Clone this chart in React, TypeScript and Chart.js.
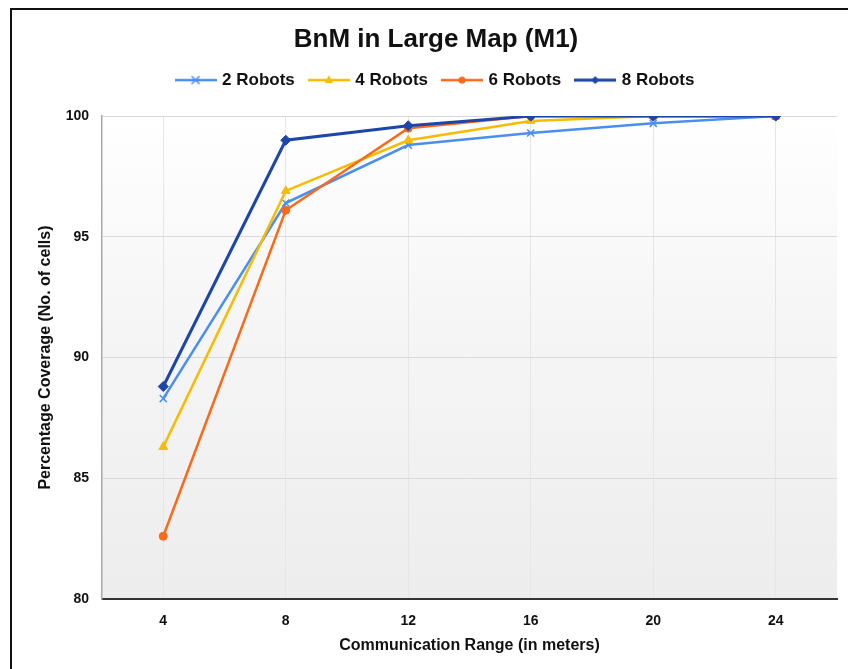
import React, { useEffect, useRef } from "react";
import { Chart, registerables } from "chart.js";

Chart.register(...registerables);

const xLabels = ["4", "8", "12", "16", "20", "24"];
const seriesNames = ["2 Robots", "4 Robots", "6 Robots", "8 Robots"];
const robots2 = [88.3, 96.4, 98.8, 99.3, 99.7, 100];
const robots4 = [86.3, 96.9, 99.0, 99.8, 100, 100];
const robots6 = [82.6, 96.1, 99.5, 100, 100, 100];
const robots8 = [88.8, 99.0, 99.6, 100, 100, 100];

const colors = ["#4a8ef0", "#f7bb00", "#fb6a1a", "#1c46a8"];
const markers = ["crossRot", "triangle", "circle", "rectRot"];
const radii = [5, 5, 4, 5];
const widths = [2.5, 2.5, 2.5, 3];
const orders = [3, 2, 1, 0];

const FONT = "'Liberation Sans', Arial, sans-serif";

function legendImage(i: number): HTMLCanvasElement {
  const c = document.createElement("canvas");
  c.width = 42;
  c.height = 14;
  const ctx = c.getContext("2d")!;
  ctx.strokeStyle = colors[i];
  ctx.fillStyle = colors[i];
  ctx.lineWidth = widths[i];
  ctx.beginPath();
  ctx.moveTo(0, 7);
  ctx.lineTo(42, 7);
  ctx.stroke();
  const cx = 21, cy = 7, r = 4;
  ctx.beginPath();
  if (markers[i] === "crossRot") {
    ctx.lineWidth = 1.5;
    ctx.moveTo(cx - r, cy - r); ctx.lineTo(cx + r, cy + r);
    ctx.moveTo(cx + r, cy - r); ctx.lineTo(cx - r, cy + r);
    ctx.stroke();
  } else if (markers[i] === "triangle") {
    ctx.moveTo(cx, cy - r - 1); ctx.lineTo(cx + r, cy + r - 1); ctx.lineTo(cx - r, cy + r - 1);
    ctx.closePath(); ctx.fill();
  } else if (markers[i] === "circle") {
    ctx.arc(cx, cy, 3.5, 0, Math.PI * 2); ctx.fill();
  } else {
    ctx.moveTo(cx, cy - r); ctx.lineTo(cx + r, cy); ctx.lineTo(cx, cy + r); ctx.lineTo(cx - r, cy);
    ctx.closePath(); ctx.fill();
  }
  return c;
}

const bgPlugin = {
  id: "bgPlugin",
  beforeDraw(chart: any) {
    const { ctx, chartArea } = chart;
    if (!chartArea) return;
    const g = ctx.createLinearGradient(0, chartArea.top, 0, chartArea.bottom);
    g.addColorStop(0, "#ffffff");
    g.addColorStop(0.4, "#f6f6f6");
    g.addColorStop(1, "#ededed");
    ctx.save();
    ctx.fillStyle = g;
    ctx.fillRect(chartArea.left, chartArea.top, chartArea.right - chartArea.left, chartArea.bottom - chartArea.top);
    ctx.restore();
  },
  afterDraw(chart: any) {
    const { ctx } = chart;
    ctx.save();
    ctx.strokeStyle = "#111";
    ctx.lineWidth = 2;
    ctx.beginPath();
    ctx.moveTo(11, 669);
    ctx.lineTo(11, 9);
    ctx.lineTo(848, 9);
    ctx.stroke();
    ctx.restore();
  },
};

export default function App() {
  const ref = useRef<HTMLCanvasElement>(null);
  useEffect(() => {
    const all = [robots2, robots4, robots6, robots8];
    const images = seriesNames.map((_, i) => legendImage(i));
    const chart = new Chart(ref.current!, {
      type: "line",
      data: {
        labels: xLabels,
        datasets: seriesNames.map((name, i) => ({
          label: name,
          data: all[i],
          borderColor: colors[i],
          backgroundColor: colors[i],
          borderWidth: widths[i],
          pointStyle: markers[i] as any,
          pointRadius: radii[i],
          pointBorderWidth: markers[i] === "crossRot" ? 1.5 : 1,
          pointBorderColor: colors[i],
          pointBackgroundColor: colors[i],
          tension: 0,
          order: orders[i],
        })),
      },
      options: {
        responsive: false,
        maintainAspectRatio: false,
        animation: false,
        layout: { padding: { top: 26, left: 35, right: 11, bottom: 0 } },
        plugins: {
          title: {
            display: true,
            text: "BnM in Large Map (M1)",
            color: "#111",
            font: { family: FONT, size: 26, weight: "bold", lineHeight: 1.1 },
            padding: { top: 0, bottom: 1 },
            weight: 3000,
          } as any,
          legend: {
            display: true,
            position: "top",
            weight: 2500,
            labels: {
              usePointStyle: true,
              pointStyleWidth: 36,
              boxHeight: 14,
              padding: 16,
              color: "#111",
              font: { family: FONT, size: 17, weight: "bold" },
              generateLabels: (ch: any) =>
                ch.data.datasets.map((ds: any, i: number) => ({
                  text: ds.label,
                  pointStyle: images[i],
                  fillStyle: colors[i],
                  strokeStyle: colors[i],
                  lineWidth: 0,
                  hidden: false,
                  datasetIndex: i,
                  fontColor: "#111",
                })),
            },
          } as any,
          subtitle: {
            display: true,
            text: "",
            font: { size: 10, lineHeight: 1 },
            padding: 3.75,
            weight: 100,
          } as any,
          tooltip: { enabled: false },
        },
        scales: {
          x: {
            type: "category",
            offset: true,
            grid: { offset: false, color: "#e6e6e6", drawTicks: false, lineWidth: 1 },
            border: { display: true, color: "#333", width: 2 },
            ticks: { color: "#111", padding: 14, font: { family: FONT, size: 14, weight: "bold" } },
            title: {
              display: true,
              text: "Communication Range (in meters)",
              color: "#111",
              font: { family: FONT, size: 16, weight: "bold" },
              padding: { top: 0, bottom: 14 },
            },
            afterFit: (s: any) => { s.height = 70; },
          },
          y: {
            min: 80,
            max: 100,
            ticks: { stepSize: 5, color: "#111", padding: 13, font: { family: FONT, size: 14, weight: "bold" } },
            grid: { color: "#d9d9d9", drawTicks: false, lineWidth: 1 },
            border: { display: true, color: "#a8a8a8", width: 1.5 },
            title: {
              display: true,
              text: "Percentage Coverage (No. of cells)",
              color: "#111",
              font: { family: FONT, size: 16, weight: "bold" },
              padding: { top: 1, bottom: 0 },
            },
            afterFit: (s: any) => { s.width = 67; },
          },
        },
      } as any,
      plugins: [bgPlugin],
    });
    return () => chart.destroy();
  }, []);
  return (
    <div style={{ position: "fixed", left: 0, top: 0, width: 848, height: 669, background: "#fff" }}>
      <canvas ref={ref} width={848} height={669} />
    </div>
  );
}
